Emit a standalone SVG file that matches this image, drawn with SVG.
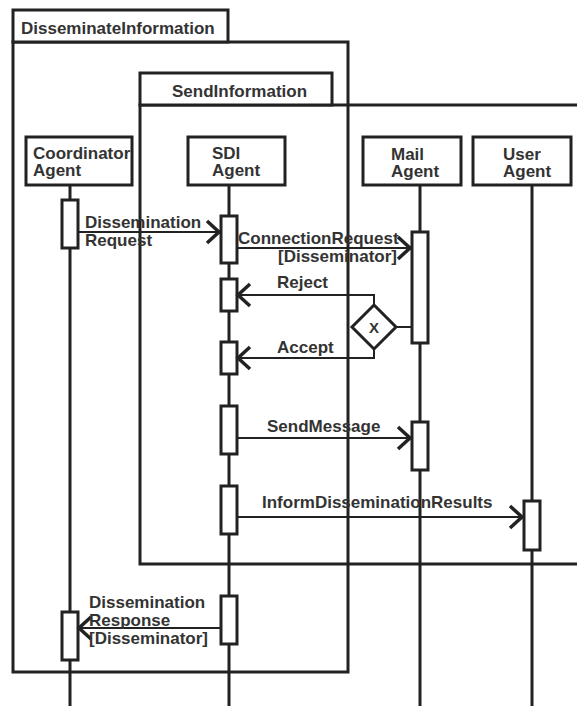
<svg xmlns="http://www.w3.org/2000/svg" width="577" height="706" viewBox="0 0 577 706">
  <style>
    .frame { fill: none; stroke: #222; stroke-width: 3; }
    .tab { fill: #fff; stroke: #222; stroke-width: 3; }
    .box { fill: #fff; stroke: #222; stroke-width: 3; }
    .life { stroke: #222; stroke-width: 3; }
    .act { fill: #fff; stroke: #222; stroke-width: 3; }
    .msg { fill: none; stroke: #222; stroke-width: 2; }
    .head { fill: none; stroke: #222; stroke-width: 3.5; }
    text { font-family: "Liberation Sans", Arial, Helvetica, sans-serif; font-weight: bold; font-size: 17px; fill: #333; }
  </style>

  <rect width="577" height="706" fill="#fff"/>

  <!-- interaction frames -->
  <g id="frame-disseminate">
    <rect class="frame" x="13" y="42" width="335" height="630"/>
    <rect class="tab" x="13" y="10" width="215" height="32"/>
    <text x="21" y="34">DisseminateInformation</text>
  </g>
  <g id="frame-send">
    <path class="frame" d="M 580 105 H 140 V 564 H 580"/>
    <rect class="tab" x="140" y="73" width="192" height="32"/>
    <text x="172" y="97">SendInformation</text>
  </g>

  <!-- lifelines -->
  <g id="lifelines">
    <line class="life" x1="70" y1="185" x2="70" y2="706"/>
    <line class="life" x1="229" y1="185" x2="229" y2="706"/>
    <line class="life" x1="420" y1="185" x2="420" y2="706"/>
    <line class="life" x1="532" y1="185" x2="532" y2="706"/>
  </g>

  <!-- agents -->
  <g id="coordinator-agent">
    <rect class="box" x="26" y="137" width="106" height="48"/>
    <text x="33" y="159">Coordinator</text>
    <text x="33" y="176">Agent</text>
  </g>
  <g id="sdi-agent">
    <rect class="box" x="188" y="137" width="97" height="48"/>
    <text x="212" y="159">SDI</text>
    <text x="212" y="176">Agent</text>
  </g>
  <g id="mail-agent">
    <rect class="box" x="363" y="137" width="98" height="48"/>
    <text x="391" y="160">Mail</text>
    <text x="391" y="177">Agent</text>
  </g>
  <g id="user-agent">
    <rect class="box" x="473" y="137" width="98" height="48"/>
    <text x="503" y="160">User</text>
    <text x="503" y="177">Agent</text>
  </g>

  <!-- activations -->
  <g id="activations">
    <rect class="act" x="62" y="200" width="16" height="48"/>
    <rect class="act" x="221" y="216" width="16" height="47"/>
    <rect class="act" x="221" y="279" width="16" height="32"/>
    <rect class="act" x="221" y="342" width="16" height="32"/>
    <rect class="act" x="221" y="406" width="16" height="48"/>
    <rect class="act" x="221" y="486" width="16" height="48"/>
    <rect class="act" x="221" y="596" width="16" height="48"/>
    <rect class="act" x="412" y="232" width="16" height="111"/>
    <rect class="act" x="412" y="422" width="16" height="48"/>
    <rect class="act" x="524" y="501" width="16" height="49"/>
    <rect class="act" x="62" y="612" width="16" height="48"/>
  </g>

  <!-- choice node -->
  <g id="choice">
    <path class="box" d="M 374 305 L 396 327 L 374 349 L 352 327 Z"/>
    <text x="374" y="333" text-anchor="middle" style="font-size:15px">X</text>
  </g>

  <!-- messages -->
  <g id="connectors">
    <line class="msg" x1="78" y1="232" x2="219" y2="232"/>
    <path class="head" d="M 207 221 L 219 232 L 207 243"/>

    <line class="msg" x1="237" y1="248" x2="410" y2="248"/>
    <path class="head" d="M 398 237 L 410 248 L 398 259"/>

    <path class="msg" d="M 374 305 V 295 H 238"/>
    <path class="head" d="M 250 284 L 238 295 L 250 306"/>

    <path class="msg" d="M 374 349 V 358 H 238"/>
    <path class="head" d="M 250 347 L 238 358 L 250 369"/>

    <line class="msg" x1="396" y1="327" x2="412" y2="327"/>

    <line class="msg" x1="237" y1="438" x2="410" y2="438"/>
    <path class="head" d="M 398 427 L 410 438 L 398 449"/>

    <line class="msg" x1="237" y1="517" x2="522" y2="517"/>
    <path class="head" d="M 510 506 L 522 517 L 510 528"/>

    <line class="msg" x1="221" y1="628" x2="79" y2="628"/>
    <path class="head" d="M 91 617 L 79 628 L 91 639"/>
  </g>

  <!-- message labels -->
  <g id="labels">
    <text x="85" y="228">Dissemination</text>
    <text x="85" y="246">Request</text>
    <text x="238" y="244">ConnectionRequest</text>
    <text x="397" y="262" text-anchor="end">[Disseminator]</text>
    <text x="277" y="288">Reject</text>
    <text x="277" y="353">Accept</text>
    <text x="267" y="432">SendMessage</text>
    <text x="262" y="508">InformDisseminationResults</text>
    <text x="89" y="608">Dissemination</text>
    <text x="89" y="626">Response</text>
    <text x="89" y="644">[Disseminator]</text>
  </g>
</svg>
